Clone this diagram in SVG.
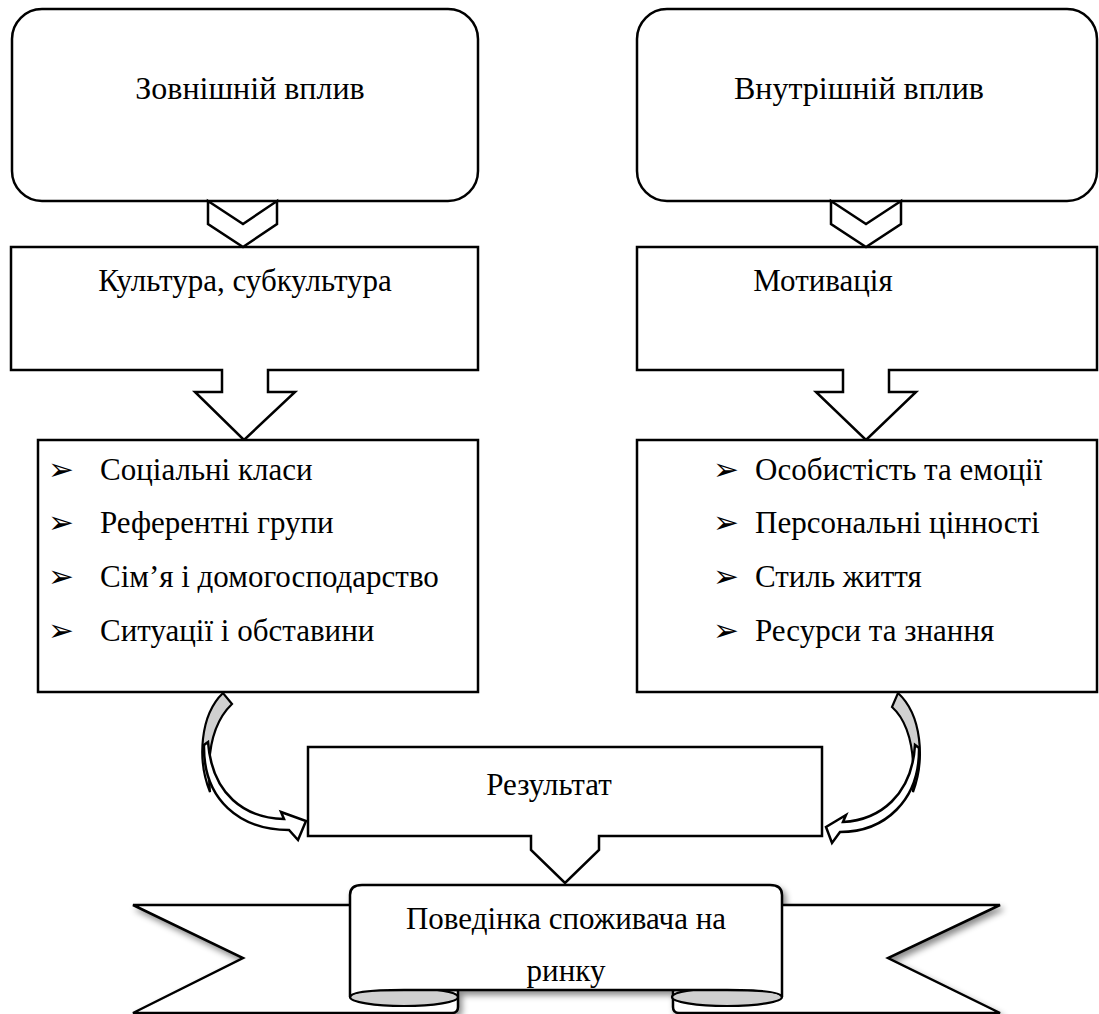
<svg xmlns="http://www.w3.org/2000/svg" width="1099" height="1014" viewBox="0 0 1099 1014">
<style>
.s{fill:#fff;stroke:#000;stroke-width:2.5;stroke-linejoin:miter}
.g{fill:#d0d0d0;stroke:#000;stroke-width:2.2}
text{font-family:"Liberation Serif","Times New Roman","DejaVu Serif",serif;font-size:31px;fill:#000}
.c{text-anchor:middle}
.h{font-size:32px}
</style>
<defs>
<filter id="sh" x="-10%" y="-20%" width="120%" height="150%">
<feDropShadow dx="3" dy="4" stdDeviation="3" flood-color="#000" flood-opacity="0.45"/>
</filter>
</defs>
<rect width="1099" height="1014" fill="#fff"/>

<g id="ext">
<rect class="s" x="12" y="9" width="466" height="192" rx="30"/>
<text class="c h" x="250" y="99">Зовнішній вплив</text>
</g>
<g id="int">
<rect class="s" x="637" y="9" width="460" height="192" rx="30"/>
<text class="c h" x="859" y="99">Внутрішній вплив</text>
</g>

<g id="culture">
<path class="s" d="M11,247 H478 V370 H268 V392 H295 L244,440 L195,392 H222 V370 H11 Z"/>
<text class="c" x="245" y="291">Культура, субкультура</text>
</g>
<g id="motivation">
<path class="s" d="M637,247 H1097 V370 H889 V392 H916 L866,440 L816,392 H843 V370 H637 Z"/>
<text class="c" x="823" y="291">Мотивація</text>
</g>

<g id="connectors">
<polygon class="s" points="208,201 243,224 277,201 277,224 243,247 208,224"/>
<polygon class="s" points="831,201 866,224 901,201 901,224 866,247 831,224"/>
<path class="g" d="M223,693 C200,715 197,760 210,792 C207,760 210,725 232,704 Z"/>
<path class="s" stroke-width="2.2" d="M208,742 C212,795 245,818 284,819 L281,812 L306,821 L298,840 L289,830 C240,830 203,800 204,745 Z"/>
<path class="g" d="M898,693 C922,715 925,760 913,792 C915,760 912,725 892,707 Z"/>
<path class="s" stroke-width="2.2" d="M915,745 C912,795 880,820 843,822 L846,815 L826,827 L832,843 L840,832 C885,832 920,800 919,748 Z"/>
</g>

<g id="external-list">
<rect class="s" x="38" y="440" width="440" height="252"/>
<text x="48" y="480">➢</text><text x="100" y="480">Соціальні класи</text>
<text x="48" y="533">➢</text><text x="100" y="533">Референтні групи</text>
<text x="48" y="587">➢</text><text x="100" y="587">Сім’я і домогосподарство</text>
<text x="48" y="641">➢</text><text x="100" y="641">Ситуації і обставини</text>
</g>
<g id="internal-list">
<rect class="s" x="637" y="440" width="460" height="252"/>
<text x="713" y="480">➢</text><text x="755" y="480">Особистість та емоції</text>
<text x="713" y="533">➢</text><text x="755" y="533">Персональні цінності</text>
<text x="713" y="587">➢</text><text x="755" y="587">Стиль життя</text>
<text x="713" y="641">➢</text><text x="755" y="641">Ресурси та знання</text>
</g>

<g id="result">
<path class="s" d="M308,747 H822 V836 H599 V850 L565,883 L531,850 V836 H308 Z"/>
<text class="c" x="549" y="795">Результат</text>
</g>

<g id="behaviour">
<g filter="url(#sh)">
<path class="s" d="M355,905 H133 L243,958 L133,1013 H452 Q458,1013 458,1007 V990 H355 Z"/>
<path class="s" d="M777,905 H1000 L888,958 L1000,1013 H679 Q673,1013 673,1007 V990 H777 Z"/>
<ellipse class="g" cx="404" cy="997" rx="54" ry="9"/>
<ellipse class="g" cx="727" cy="997" rx="55" ry="9"/>
<path class="s" d="M350,997 V895 Q350,885 362,885 H770 Q782,885 782,895 V997 Q782,990 727,990 H404 Q350,990 350,997 Z"/>
</g>
<text class="c" x="566" y="929">Поведінка споживача на</text>
<text class="c" x="566" y="981">ринку</text>
</g>
</svg>
